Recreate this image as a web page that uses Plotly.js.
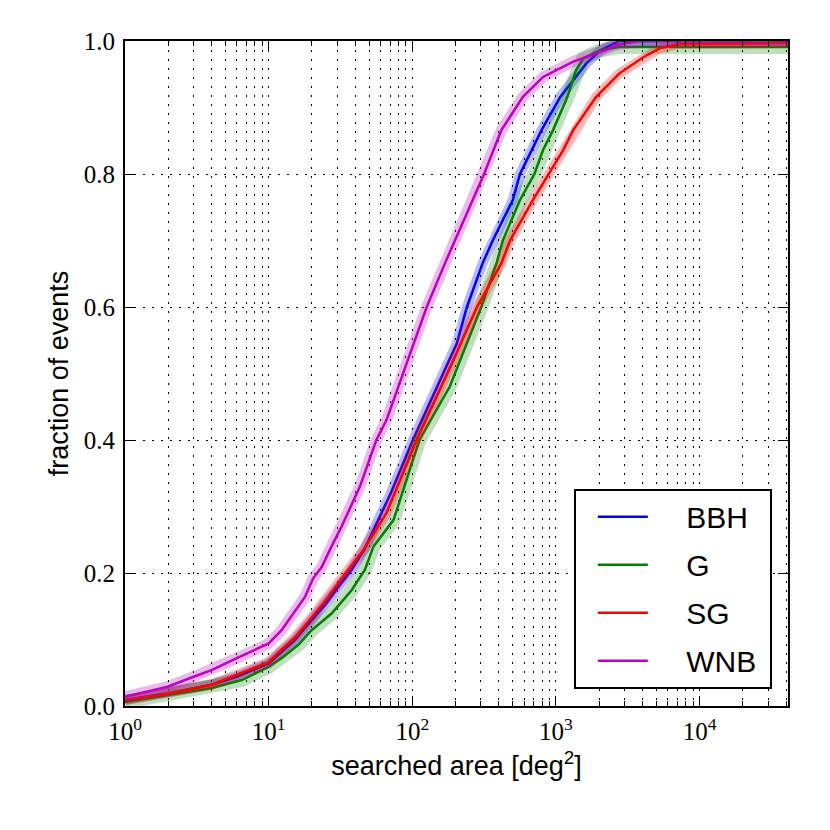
<!DOCTYPE html>
<html>
<head>
<meta charset="utf-8">
<script src="https://cdn.plot.ly/plotly-3.0.1.min.js"></script>
<style>html,body{margin:0;padding:0;background:#fff;}#chart{width:830px;height:830px;}</style>
</head>
<body>
<div id="chart"></div>
<script>
// searched area [deg^2] and cumulative fraction of events
const seriesNames = ["BBH", "G", "SG", "WNB"];

const bbhArea = [1, 1.98, 4.0, 6.0, 10, 12.3, 15.2, 19.9, 24.7, 30.5, 37.8, 46.8, 70.8, 101, 204, 240, 309, 363, 501, 562, 676, 794, 1072, 1318, 1622, 2042, 2754, 41253];
const bbhFrac = [0.009, 0.019, 0.032, 0.044, 0.064, 0.082, 0.099, 0.129, 0.152, 0.179, 0.205, 0.237, 0.32, 0.40, 0.545, 0.60, 0.666, 0.70, 0.761, 0.80, 0.836, 0.866, 0.916, 0.941, 0.966, 0.986, 1.0, 1.0];

const gArea = [1, 1.98, 4.0, 6.5, 10, 12.3, 16.1, 19.9, 27.4, 37.8, 46.8, 53.7, 74.1, 112, 182, 302, 386, 427, 562, 708, 813, 955, 1202, 1380, 1549, 2042, 2754, 41253];
const gFrac = [0.006, 0.0165, 0.027, 0.039, 0.059, 0.072, 0.092, 0.114, 0.139, 0.174, 0.205, 0.24, 0.28, 0.40, 0.48, 0.60, 0.666, 0.70, 0.761, 0.80, 0.836, 0.866, 0.916, 0.956, 0.974, 0.986, 0.991, 0.991];

const sgArea = [1, 1.98, 4.0, 10, 12.3, 15.2, 19.9, 24.7, 30.5, 37.8, 45.7, 66.1, 107, 193, 282, 417, 479, 692, 891, 1122, 1318, 1905, 2754, 4074, 5248, 7244, 41253];
const sgFrac = [0.009, 0.019, 0.032, 0.066, 0.085, 0.103, 0.133, 0.158, 0.185, 0.212, 0.235, 0.29, 0.40, 0.52, 0.60, 0.666, 0.70, 0.761, 0.80, 0.836, 0.866, 0.916, 0.951, 0.976, 0.989, 0.996, 0.997];

const wnbArea = [1, 1.98, 3.0, 4.0, 6.0, 8.0, 10, 12.3, 15.2, 17.9, 20.4, 23.4, 27.4, 32.2, 43.2, 56.2, 66.1, 126, 169, 265, 316, 417, 589, 813, 1318, 1905, 2630, 3800, 41253];
const wnbFrac = [0.014, 0.029, 0.044, 0.054, 0.072, 0.084, 0.094, 0.114, 0.142, 0.164, 0.192, 0.209, 0.24, 0.27, 0.33, 0.40, 0.43, 0.60, 0.666, 0.761, 0.80, 0.866, 0.916, 0.946, 0.969, 0.981, 0.994, 1.0, 1.0];

const xTickVals = [1, 10, 100, 1000, 10000];
const xTickText = ["10<sup>0</sup>", "10<sup>1</sup>", "10<sup>2</sup>", "10<sup>3</sup>", "10<sup>4</sup>"];
const yTickVals = [0, 0.2, 0.4, 0.6, 0.8, 1.0];
const yTickText = ["0.0", "0.2", "0.4", "0.6", "0.8", "1.0"];
const fullSky = 41253;

const minorVals = [];
[1, 10, 100, 1000, 10000].forEach(d => { for (let k = 2; k <= 9; k++) { if (d * k < fullSky) minorVals.push(d * k); } });

const colors = ["#0000ff", "#008000", "#ff0000", "#bf00bf"];
const bandColors = ["rgba(0,0,255,0.28)", "rgba(0,128,0,0.25)", "rgba(255,0,0,0.28)", "rgba(191,0,191,0.28)"];
const bandWidths = [10, 14, 10, 11];
const xs = [bbhArea, gArea, sgArea, wnbArea];
const ys = [bbhFrac, gFrac, sgFrac, wnbFrac];
const pad = "\u00a0\u00a0\u00a0\u00a0";

const traces = [];
for (let i = 0; i < 4; i++) {
  traces.push({
    x: xs[i], y: ys[i], type: "scatter", mode: "lines",
    line: {color: bandColors[i], width: bandWidths[i]},
    showlegend: false, hoverinfo: "skip", legendgroup: "g" + i
  });
  traces.push({
    x: xs[i], y: ys[i], type: "scatter", mode: "lines", name: pad + seriesNames[i] + "\u00a0",
    line: {color: colors[i], width: 2.5},
    legendgroup: "g" + i
  });
}

const serif = "'Liberation Serif', serif";
const sans = "'Liberation Sans', sans-serif";

const layout = {
  width: 830, height: 830,
  margin: {l: 125, r: 42, t: 41, b: 124},
  paper_bgcolor: "#ffffff", plot_bgcolor: "#ffffff",
  showlegend: true,
  legend: {
    x: 0.677, y: 0.026, xanchor: "left", yanchor: "bottom",
    bordercolor: "#000000", borderwidth: 2, bgcolor: "#ffffff",
    font: {family: sans, size: 30, color: "#000000"},
    traceorder: "grouped", tracegroupgap: 6, itemwidth: 50, indentation: 17
  },
  xaxis: {
    type: "log", range: [0, Math.log10(fullSky)],
    tickvals: xTickVals, ticktext: xTickText,
    ticks: "inside", ticklen: 10, tickwidth: 1, tickcolor: "#000",
    showline: true, linecolor: "#000", linewidth: 2, mirror: "allticks",
    showgrid: true, gridcolor: "#000", gridwidth: 1, griddash: "2px,7px",
    minor: {tickvals: minorVals, ticks: "inside", ticklen: 5, tickcolor: "#000", showgrid: true, gridcolor: "#000", gridwidth: 1, griddash: "2px,7px"},
    tickfont: {family: serif, size: 25, color: "#000"},
    ticklabelstandoff: 2,
    zeroline: false,
    title: {text: "searched area [deg<sup>2</sup>]", font: {family: sans, size: 27, color: "#000"}, standoff: 12}
  },
  yaxis: {
    range: [0, 1],
    tickvals: yTickVals, ticktext: yTickText,
    ticks: "inside", ticklen: 10, tickwidth: 1, tickcolor: "#000",
    showline: true, linecolor: "#000", linewidth: 2, mirror: "allticks",
    showgrid: true, gridcolor: "#000", gridwidth: 1, griddash: "2px,7px",
    tickfont: {family: serif, size: 25, color: "#000"},
    ticklabelstandoff: 3,
    zeroline: false,
    title: {text: "fraction of events", font: {family: sans, size: 27, color: "#000"}, standoff: 7}
  }
};

Plotly.newPlot("chart", traces, layout, {displayModeBar: false, staticPlot: true});
</script>
</body>
</html>
